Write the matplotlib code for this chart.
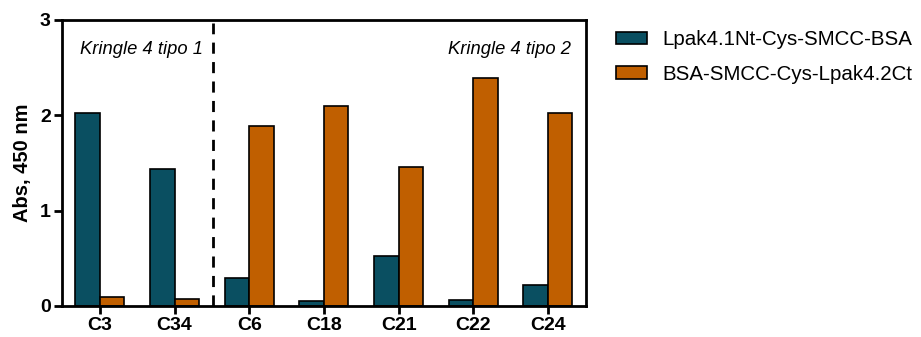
import numpy as np
import matplotlib.pyplot as plt

plt.rcParams['font.family'] = ['Liberation Sans', 'DejaVu Sans']

categories = ['C3', 'C34', 'C6', 'C18', 'C21', 'C22', 'C24']
nt_bsa = [2.02, 1.44, 0.29, 0.05, 0.52, 0.06, 0.22]
bsa_ct = [0.09, 0.07, 1.89, 2.10, 1.46, 2.39, 2.02]
series_names = ['Lpak4.1Nt-Cys-SMCC-BSA', 'BSA-SMCC-Cys-Lpak4.2Ct']

teal = '#0A4F61'
orange = '#C05F00'

fig = plt.figure(figsize=(9.21, 3.37), dpi=100)
ax = fig.add_axes([62 / 921, 31 / 337, 524 / 921, 286 / 337])

x = np.arange(len(categories))
w = 0.327
ax.bar(x - w / 2, nt_bsa, w, color=teal, edgecolor='black', linewidth=1.2,
       label=series_names[0])
ax.bar(x + w / 2, bsa_ct, w, color=orange, edgecolor='black', linewidth=1.2,
       label=series_names[1])

# separator between the two kringle groups
ax.plot([1.52, 1.52], [0, 2.97], color='black', linestyle=(0, (4, 3)), linewidth=2)

ax.text(-0.27, 2.69, 'Kringle 4 tipo 1', style='italic', fontsize=13.2,
        ha='left', va='center')
ax.text(6.31, 2.69, 'Kringle 4 tipo 2', style='italic', fontsize=13.2,
        ha='right', va='center')

ax.set_xlim(-0.507, 6.51)
ax.set_ylim(0, 3)
ax.set_yticks([0, 1, 2, 3])
ax.set_xticks(x)
ax.set_xticklabels(categories)
for lbl in ax.get_xticklabels() + ax.get_yticklabels():
    lbl.set_fontweight('bold')
    lbl.set_fontsize(14)
ax.set_ylabel('Abs, 450 nm', fontsize=14.5, fontweight='bold', labelpad=6)
ax.tick_params(axis='both', direction='out', length=6, width=2)
ax.tick_params(axis='x', pad=2)
ax.tick_params(axis='y', pad=2)
for side in ['left', 'bottom', 'top', 'right']:
    ax.spines[side].set_linewidth(2)

ax.legend(loc='upper left', bbox_to_anchor=(1.058, 0.964), frameon=False,
          fontsize=14.8, handlelength=1.5, handleheight=0.55, handletextpad=0.75,
          labelspacing=0.75, borderaxespad=0, borderpad=0)

fig.savefig('out.png', dpi=100)
